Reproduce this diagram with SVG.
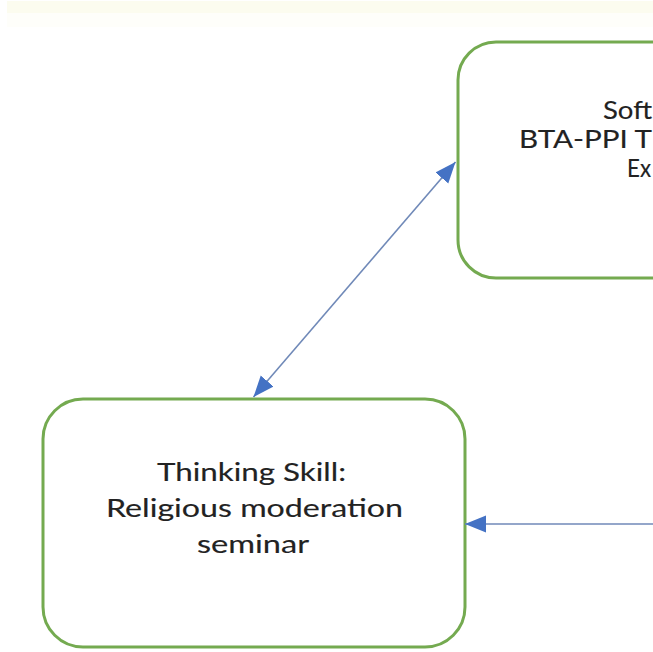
<svg xmlns="http://www.w3.org/2000/svg" width="653" height="652" viewBox="0 0 653 652">
  <style>
    .box { fill: #ffffff; stroke: #74aa50; stroke-width: 3; }
    .lbl { font-family: Lato, "Liberation Sans", sans-serif; font-size: 24.5px; fill: #222222; stroke: #222222; stroke-width: 0.15; }
    .conn { stroke: #7089b8; stroke-width: 1.6; fill: none; }
  </style>
  <defs>
    <marker id="arrow" markerUnits="userSpaceOnUse" markerWidth="22" markerHeight="18" refX="21" refY="8.5" orient="auto-start-reverse" viewBox="0 0 22 17">
      <path d="M0,0 L21,8.5 L0,17 z" fill="#4472c4"/>
    </marker>
  </defs>
  <rect x="0" y="0" width="653" height="652" fill="#ffffff"/>
  <rect x="7" y="1" width="646" height="12" fill="#fcfcef"/>
  <rect x="7" y="13" width="646" height="14" fill="#fefefa"/>

  <g id="node-soft-skill">
    <rect class="box" x="458" y="42" width="300" height="236" rx="38" ry="38"/>
    <text class="lbl" x="603" y="118.5" textLength="49" lengthAdjust="spacingAndGlyphs">Soft</text>
    <text class="lbl" x="519" y="147.5" textLength="133" lengthAdjust="spacingAndGlyphs">BTA-PPI T</text>
    <text class="lbl" x="627" y="176.5" textLength="24" lengthAdjust="spacingAndGlyphs">Ex</text>
  </g>

  <g id="node-thinking-skill">
    <rect class="box" x="43" y="399" width="422" height="248" rx="40" ry="40"/>
    <text class="lbl" x="157" y="480.5" textLength="189" lengthAdjust="spacingAndGlyphs">Thinking Skill:</text>
    <text class="lbl" x="106" y="516.5" textLength="297" lengthAdjust="spacingAndGlyphs">Religious moderation</text>
    <text class="lbl" x="197" y="552.5" textLength="112" lengthAdjust="spacingAndGlyphs">seminar</text>
  </g>

  <g id="connectors">
    <line class="conn" x1="253.5" y1="397" x2="455.5" y2="162" marker-start="url(#arrow)" marker-end="url(#arrow)"/>
    <line class="conn" x1="653" y1="524" x2="465" y2="524" marker-end="url(#arrow)"/>
  </g>
</svg>
